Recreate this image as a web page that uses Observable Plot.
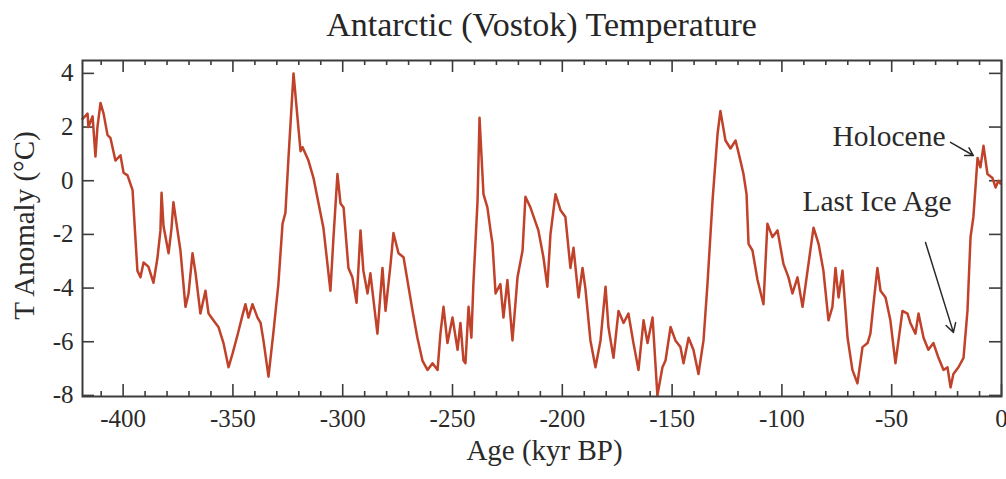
<!DOCTYPE html>
<html>
<head>
<meta charset="utf-8">
<script src="https://cdn.jsdelivr.net/npm/d3@7"></script>
<script src="https://cdn.jsdelivr.net/npm/@observablehq/plot@0.6"></script>
<style>
  body { margin: 0; background: #fff; }
  #wrap { width: 1006px; height: 479px; position: relative; }
  #title {
    height: 50px; box-sizing: border-box; padding-left: 82px; padding-right: 5px;
    text-align: center; font: 34px "Liberation Serif", serif; line-height: 50px; color: #262626;
  }
</style>
</head>
<body>
<div id="wrap">
  <div id="title">Antarctic (Vostok) Temperature</div>
  <div id="chart"></div>
</div>
<script>
// Vostok ice core temperature anomaly, age in thousands of years before present
const ageKyr = [
  -418.5, -416.2, -415.8, -413.9, -412.6, -411.7, -410.3, -408.9, -407.1, -405.8,
  -403.5, -401.2, -399.8, -398.0, -395.7, -394.8, -393.5, -392.1, -390.7, -388.5,
  -386.2, -384.4, -383.0, -382.5, -381.6, -379.3, -378.0, -377.1, -375.7, -373.9,
  -371.6, -370.2, -368.4, -367.0, -364.8, -362.5, -361.1, -358.9, -356.6, -354.3,
  -352.0, -350.2, -347.9, -345.6, -344.3, -342.9, -341.1, -338.8, -337.4, -336.1,
  -333.8, -331.5, -329.3, -327.4, -326.1, -324.7, -322.4, -320.6, -319.2, -318.3,
  -315.6, -313.3, -311.0, -308.8, -305.6, -304.2, -302.4, -301.0, -299.6, -297.4,
  -295.6, -293.7, -291.9, -290.6, -288.7, -287.4, -284.2, -281.9, -280.5, -278.2,
  -276.9, -274.6, -272.3, -268.2, -266.0, -263.7, -261.4, -259.1, -256.8, -255.5,
  -254.1, -252.3, -250.0, -247.7, -246.4, -245.0, -244.1, -242.7, -241.4, -240.5,
  -238.6, -237.7, -235.9, -234.1, -232.7, -231.8, -230.4, -228.2, -226.8, -225.0,
  -222.7, -220.4, -218.1, -216.8, -214.5, -210.9, -208.6, -206.8, -205.4, -203.1,
  -200.8, -198.6, -196.3, -194.9, -192.6, -190.8, -189.5, -187.2, -184.9, -182.6,
  -180.3, -179.0, -176.7, -174.4, -172.1, -169.9, -167.6, -165.3, -163.0, -161.2,
  -158.9, -156.7, -154.4, -153.0, -150.7, -148.5, -146.2, -144.8, -142.5, -140.3,
  -138.0, -135.7, -133.9, -131.6, -129.3, -128.0, -125.7, -123.4, -121.1, -118.9,
  -117.5, -116.1, -115.2, -113.4, -111.1, -108.4, -106.6, -104.3, -102.0, -99.3,
  -97.0, -95.2, -92.9, -90.6, -87.9, -85.6, -83.3, -81.1, -78.8, -77.0,
  -75.6, -74.2, -72.4, -70.1, -67.9, -65.6, -63.3, -61.0, -59.7, -58.3,
  -56.5, -55.1, -52.8, -50.6, -48.3, -46.9, -45.1, -42.8, -41.5, -39.2,
  -37.8, -35.5, -33.3, -31.0, -28.7, -26.4, -24.6, -23.2, -21.9, -19.6,
  -17.3, -15.5, -14.1, -12.8, -10.9, -9.6, -8.2, -6.4, -4.1, -2.7,
  -1.4, -0.5
];
const anomalyC = [
  2.3, 2.5, 2.0, 2.4, 0.9, 2.0, 2.9, 2.5, 1.7, 1.6,
  0.75, 0.95, 0.3, 0.2, -0.35, -1.6, -3.35, -3.6, -3.05, -3.2,
  -3.8, -2.9, -1.85, -0.45, -1.7, -2.7, -1.8, -0.8, -1.6, -2.6,
  -4.7, -4.2, -2.7, -3.45, -4.95, -4.1, -4.95, -5.2, -5.45, -6.05,
  -6.95, -6.45, -5.75, -5.0, -4.6, -5.1, -4.6, -5.1, -5.3, -5.95,
  -7.3, -5.6, -3.85, -1.6, -1.2, 0.85, 4.0, 2.35, 1.1, 1.25,
  0.75, 0.1, -0.85, -1.75, -4.1, -2.1, 0.25, -0.85, -1.0, -3.25,
  -3.6, -4.55, -1.85, -3.35, -4.2, -3.45, -5.7, -3.25, -4.85, -3.1,
  -1.95, -2.7, -2.85, -4.85, -5.85, -6.7, -7.05, -6.8, -7.05, -5.7,
  -4.7, -6.05, -5.1, -6.3, -5.3, -6.7, -6.8, -4.7, -5.85, -3.85,
  -0.75, 2.35, -0.5, -1.0, -1.85, -2.35, -4.2, -3.85, -5.1, -3.7,
  -5.95, -3.6, -2.6, -0.6, -1.0, -1.85, -2.85, -3.95, -2.0, -0.5,
  -1.1, -1.35, -3.25, -2.5, -4.35, -3.25, -4.0, -5.95, -6.95, -5.95,
  -3.95, -5.45, -6.6, -4.85, -5.3, -4.95, -6.05, -7.05, -5.2, -6.05,
  -5.1, -8.0, -6.95, -6.7, -5.45, -5.95, -6.2, -6.8, -5.85, -6.3,
  -7.2, -5.95, -3.85, -0.75, 1.75, 2.6, 1.5, 1.2, 1.5, 0.75,
  0.25, -0.5, -2.35, -2.6, -3.7, -4.6, -1.6, -2.1, -1.85, -3.1,
  -3.6, -4.2, -3.6, -4.7, -3.1, -1.75, -2.35, -3.35, -5.2, -4.7,
  -3.25, -4.35, -3.35, -5.85, -7.05, -7.55, -6.2, -6.05, -5.7, -4.6,
  -3.25, -4.1, -4.35, -5.2, -6.8, -5.95, -4.85, -4.95, -5.3, -5.7,
  -4.95, -5.85, -6.3, -6.05, -6.6, -7.05, -6.95, -7.7, -7.2, -6.95,
  -6.6, -4.85, -2.1, -1.35, 0.85, 0.5, 1.3, 0.25, 0.1, -0.25,
  0.0, -0.1
];

const xTicks = [-400, -350, -300, -250, -200, -150, -100, -50, 0];
const yTicks = [-8, -6, -4, -2, 0, 2, 4];
const xLabel = "Age (kyr BP)";
const yLabel = "T Anomaly (°C)";
const notes = ["Holocene", "Last Ice Age"];

const series = ageKyr.map((age, i) => ({age, anomaly: anomalyC[i]}));
const xMinor = d3.range(-410, 0, 10).filter(v => v % 50 !== 0);

const W = 1006, H = 429;
const M = {top: 10, right: 5, bottom: 83, left: 82};
const frameW = W - M.left - M.right;   // 919
const frameH = H - M.top - M.bottom;   // 336
const major = 12, minor = 5;

const serif = "Liberation Serif, Times New Roman, serif";
const ink = "#2a2a2a";
const frameInk = "#3c3c3c";
const tickStyle = {stroke: frameInk, strokeWidth: 1.6};

const chart = Plot.plot({
  width: W,
  height: H,
  marginTop: M.top,
  marginBottom: M.bottom,
  marginLeft: M.left,
  marginRight: M.right,
  style: {fontFamily: serif, background: "white", color: ink, overflow: "visible"},
  x: {domain: [-418.5, 0], axis: null},
  y: {domain: [-8.04, 4.48], axis: null},
  marks: [
    // inward ticks on all four sides
    Plot.tickX(xTicks, {x: d => d, insetTop: frameH - major, ...tickStyle}),
    Plot.tickX(xMinor, {x: d => d, insetTop: frameH - minor, ...tickStyle}),
    Plot.tickX(xTicks, {x: d => d, insetBottom: frameH - major, ...tickStyle}),
    Plot.tickX(xMinor, {x: d => d, insetBottom: frameH - minor, ...tickStyle}),
    Plot.tickY(yTicks, {y: d => d, insetRight: frameW - major, ...tickStyle}),
    Plot.tickY(yTicks, {y: d => d, insetLeft: frameW - major, ...tickStyle}),
    // tick labels
    Plot.axisX(xTicks, {anchor: "bottom", tickSize: 0, tickPadding: 13, tickFormat: d => String(d), label: null, fontSize: 25, fill: ink}),
    Plot.axisY(yTicks, {anchor: "left", tickSize: 0, tickPadding: 9, tickFormat: d => String(d), label: null, fontSize: 25, fill: ink}),
    // temperature record
    Plot.line(series, {x: "age", y: "anomaly", stroke: "#c0422a", strokeWidth: 2.5, strokeLinejoin: "round"}),
    Plot.frame({stroke: frameInk, strokeWidth: 2}),
    // axis titles
    Plot.text([xLabel], {frameAnchor: "bottom", textAnchor: "middle", lineAnchor: "middle", dx: 2.5, dy: 54, text: d => d, fontSize: 29, fill: ink}),
    Plot.text([yLabel], {frameAnchor: "left", textAnchor: "middle", lineAnchor: "middle", dx: -57.3, dy: -3, rotate: -90, text: d => d, fontSize: 29, fill: ink}),
    // annotations
    Plot.text([notes[0]], {x: -25.5, y: 1.66, text: d => d, textAnchor: "end", lineAnchor: "middle", fontSize: 29.5, fill: ink}),
    Plot.text([notes[1]], {x: -56.7, y: -0.76, text: d => d, textAnchor: "middle", lineAnchor: "middle", fontSize: 29.5, fill: ink}),
    Plot.arrow([notes[0]], {x1: -23.2, y1: 1.43, x2: -12.8, y2: 0.94, stroke: ink, strokeWidth: 1.5, headLength: 10}),
    Plot.arrow([notes[1]], {x1: -34.6, y1: -2.30, x2: -21.9, y2: -5.65, stroke: ink, strokeWidth: 1.5, headLength: 10})
  ]
});
document.getElementById("chart").appendChild(chart);
</script>
</body>
</html>
